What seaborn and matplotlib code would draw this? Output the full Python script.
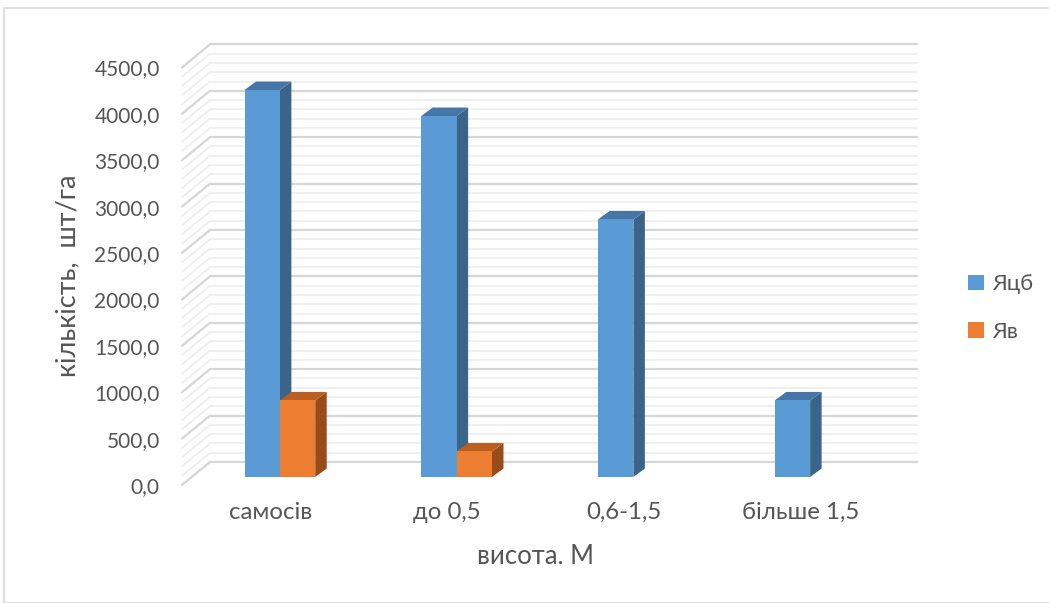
import matplotlib
matplotlib.use("Agg")
import numpy as np
import pandas as pd
import seaborn as sns
import matplotlib.pyplot as plt
from matplotlib.patches import Polygon, Rectangle
from matplotlib.lines import Line2D
from matplotlib.ticker import FuncFormatter, MultipleLocator

# ---- data -------------------------------------------------------------
categories = ["самосів", "до 0,5", "0,6-1,5", "більше 1,5"]
series_names = ["Яцб", "Яв"]
yacb = [4170, 3890, 2775, 825]
yav = [825, 275, 0, 0]

# ---- style ------------------------------------------------------------
sns.set_theme(style="white")
plt.rcParams["font.family"] = ["Lato", "DejaVu Sans"]

front_colors = {"Яцб": "#5B9BD5", "Яв": "#ED7D31"}
top_colors = {"Яцб": "#4676A8", "Яв": "#BC5E1F"}
side_colors = {"Яцб": "#3A6489", "Яв": "#994C19"}
text_color = "#555555"

W, H, DPI = 1049, 603, 100
fig = plt.figure(figsize=(W / DPI, H / DPI), dpi=DPI)
fig.patch.set_facecolor("white")

# front plane of the chart (pixels)
ax_left, ax_right, ax_bottom_px, ax_h_px = 182, 889, 485, 417.6
ax = fig.add_axes([ax_left / W, (H - ax_bottom_px) / H,
                   (ax_right - ax_left) / W, ax_h_px / H])

df = pd.DataFrame({
    "category": categories * 2,
    "series": [series_names[0]] * 4 + [series_names[1]] * 4,
    "value": yacb + yav,
})

sns.barplot(data=df, x="category", y="value", hue="series",
            palette=[front_colors[s] for s in series_names],
            width=0.4, gap=0, saturation=1, errorbar=None,
            linewidth=0, legend=False, ax=ax)

ymax = 4500
ax.set_xlim(-0.5, len(categories) - 0.5)
ax.set_ylim(0, ymax)

# pixel -> data unit conversion (axes geometry is fixed)
ux = (len(categories)) / (ax_right - ax_left)
uy = ymax / ax_h_px

def px(dx, dy):
    return dx * ux, dy * uy

# 3D offsets in pixels (x right, y up)
wall_dx, wall_dy = px(28, 23)      # front plane -> back wall
bar_dx, bar_dy = px(9.5, 8)        # front plane -> bar front faces
dep_dx, dep_dy = px(11.5, 8.5)     # bar depth

# back wall and left wall grid
x_lo, x_hi = -0.5, len(categories) - 0.5
for v in range(0, ymax + 1, 100):
    major = (v % 500 == 0)
    c = "#D6D6D6" if major else "#ECECEC"
    lw = 1.6 if major else 1.1
    ax.add_line(Line2D([x_lo + wall_dx, x_hi + wall_dx], [v + wall_dy, v + wall_dy],
                       color=c, lw=lw, clip_on=False, zorder=0.5))
    ax.add_line(Line2D([x_lo, x_lo + wall_dx], [v, v + wall_dy],
                       color=c, lw=lw, clip_on=False, zorder=0.5))

# shift bars into their depth plane and give them top and side faces
bars = sorted(ax.patches, key=lambda p: p.get_x())
hue_of = {}
for p in bars:
    fc = matplotlib.colors.to_hex(p.get_facecolor())
    for s in series_names:
        if fc.lower() == front_colors[s].lower():
            hue_of[id(p)] = s

z = 2
for p in bars:
    x0, w, h = p.get_x(), p.get_width(), p.get_height()
    s = hue_of.get(id(p), series_names[0])
    if h <= 0:
        p.set_visible(False)
        continue
    x0 += bar_dx
    x1 = x0 + w
    y0 = bar_dy
    y1 = h + bar_dy
    p.set_x(x0)
    p.set_y(y0)
    p.set_clip_on(False)
    p.set_zorder(z)
    side = Polygon([(x1, y0), (x1 + dep_dx, y0 + dep_dy),
                    (x1 + dep_dx, y1 + dep_dy), (x1, y1)],
                   closed=True, facecolor=side_colors[s], edgecolor="none",
                   clip_on=False, zorder=z - 0.2)
    top = Polygon([(x0, y1), (x1, y1), (x1 + dep_dx, y1 + dep_dy),
                   (x0 + dep_dx, y1 + dep_dy)],
                  closed=True, facecolor=top_colors[s], edgecolor="none",
                  clip_on=False, zorder=z - 0.1)
    ax.add_patch(side)
    ax.add_patch(top)
    z += 1

# axes decoration
for sp in ax.spines.values():
    sp.set_visible(False)
ax.grid(False)
ax.yaxis.set_major_locator(MultipleLocator(500))
ax.yaxis.set_major_formatter(FuncFormatter(lambda v, _: f"{v:.1f}".replace(".", ",")))
ax.tick_params(axis="both", length=0, colors=text_color)
ax.tick_params(axis="y", pad=16, labelsize=15)
ax.tick_params(axis="x", pad=12, labelsize=17.3)
ax.set_xlabel("висота. М", fontsize=18.5, color=text_color, labelpad=15)
ax.set_ylabel("кількість,  шт/га", fontsize=19.5, color=text_color, labelpad=10)
ax.set_facecolor("none")

# legend
handles = [Rectangle((0, 0), 1, 1, facecolor=front_colors[s], edgecolor="none")
           for s in series_names]
leg = fig.legend(handles, series_names, loc="center left",
                 bbox_to_anchor=(948 / W, 1 - 308 / H), frameon=False,
                 handlelength=0.7, handleheight=0.7, handletextpad=0.4,
                 labelspacing=1.25, fontsize=16)
for t in leg.get_texts():
    t.set_color(text_color)

# chart area border
fig.add_artist(Rectangle((3.5 / W, 0), 1.2, (H - 8) / H, transform=fig.transFigure,
                         facecolor="none", edgecolor="#D9D9D9", lw=1.2))

fig.savefig("out.png", dpi=DPI)
